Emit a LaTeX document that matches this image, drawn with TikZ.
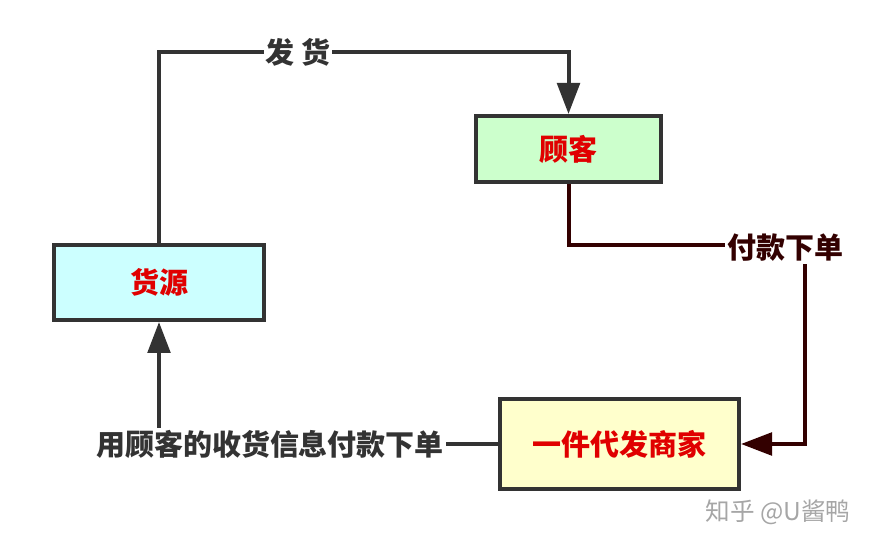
\documentclass[tikz,border=0pt]{standalone}
\usepackage{fontspec}
\newfontfamily\cjk{Noto Sans CJK SC}
\usetikzlibrary{arrows.meta}
\usetikzlibrary{positioning}

\begin{document}
\begin{tikzpicture}
\definecolor{linecolor}{HTML}{333333}
\definecolor{paycolor}{HTML}{330000}
\definecolor{boxtext}{HTML}{E00000}
\definecolor{srcfill}{HTML}{CCFFFF}
\definecolor{custfill}{HTML}{CCFFCC}
\definecolor{sellerfill}{HTML}{FFFFCC}
\tikzstyle{box}=[rectangle, draw=linecolor, line width=0.08cm, inner sep=0pt,
font=\cjk\bfseries\fontsize{16.5}{18}\selectfont, text=boxtext]
\tikzstyle{flow-edge}=[linecolor, line width=0.08cm, -{Triangle[length=0.62cm, width=0.45cm]}]
\tikzstyle{pay-edge}=[paycolor, line width=0.08cm, -{Triangle[length=0.62cm, width=0.45cm]}]
\tikzstyle{edge-label}=[fill=white, inner sep=1pt, text=linecolor,
font=\cjk\bfseries\fontsize{16.5}{18}\selectfont]

\useasboundingbox (0,0) rectangle (17.5,10.92);

\node[box, fill=srcfill, minimum width=4.2cm, minimum height=1.5cm] (Src) at (3.18,5.27) {货源};
\node[box, fill=custfill, minimum width=3.7cm, minimum height=1.32cm] (Cust) at (11.37,7.94) {顾客};
\node[box, fill=sellerfill, minimum width=4.78cm, minimum height=1.8cm] (Seller) at (12.39,2.04) {一件代发商家};

\coordinate (sendTop) at (3.18,9.88);
\coordinate (payCorner) at (16.1,6.02);

% goods go out to the customer
\draw[style=flow-edge] (Src.north) -- (Src.north |- sendTop) -- (Cust.north |- sendTop) node [pos=0.34, style=edge-label] {发 货} -- (Cust.north);
% customer pays the seller
\draw[style=pay-edge] (Cust.south) |- (payCorner) |- (Seller.east);
\node[style=edge-label, text=paycolor] (payLbl) at (15.7,5.96) {付款下单};
% seller orders from the source
\draw[style=flow-edge] (Seller.west) -| (Src.south);
\node[style=edge-label] (orderLbl) at (5.4,2.04) {用顾客的收货信息付款下单};

\node[text=gray!70, font=\cjk\fontsize{14}{16}\selectfont] (mark) at (15.56,0.68) {知乎 @U酱鸭};

\end{tikzpicture}
\end{document}
